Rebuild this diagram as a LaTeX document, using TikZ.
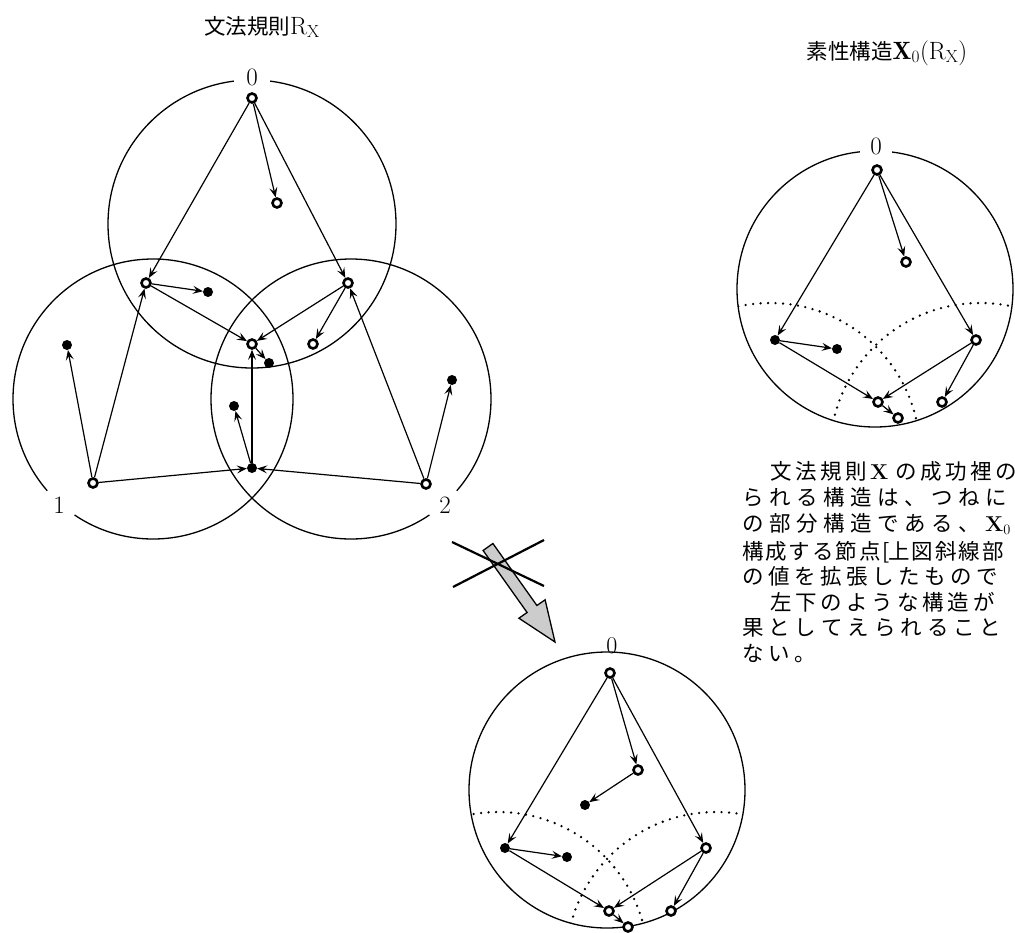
\documentclass[tikz,border=0pt]{standalone}
\usepackage{fontspec}
\newfontfamily\cjk{Noto Sans CJK JP}
\usetikzlibrary{arrows.meta}
\makeatletter
\newlength\cjw
\newcommand\cjline[2]{\setlength\cjw{#1}\@tfor\cj@c:=#2\do{\makebox[\cjw][l]{\cj@c}}}
\makeatother
\begin{document}
\begin{tikzpicture}[x=1pt,y=-1pt,
  dotn/.style={circle,fill=black,inner sep=0pt,minimum size=10pt},
  ringn/.style={circle,draw=black,line width=2.6pt,fill=white,inner sep=0pt,minimum size=9pt},
  arr/.style={-{Stealth[length=10pt,width=8pt,inset=4pt]},line width=1.2pt},
  circ/.style={line width=1.3pt},
  dotc/.style={line width=2.6pt,line cap=round,dash pattern=on 0pt off 7.5pt},
  lab/.style={font=\fontsize{25}{25}\selectfont,fill=white,inner sep=5pt},
  txt/.style={font=\cjk\fontsize{21.5}{26}\selectfont,anchor=base west,inner sep=0pt}]
\useasboundingbox (0,0) rectangle (1015,932);
\fill[white] (0,0) rectangle (1015,932);

% ---------- titles
\node[font=\cjk\fontsize{21.5}{22}\selectfont,inner sep=0pt] (t1) at (262,27)
  {文法規則{\rmfamily\fontsize{25}{25}\selectfont R$_{\mathrm{X}}$}};
\node[font=\cjk\fontsize{21.5}{22}\selectfont,inner sep=0pt] (t2) at (887,53)
  {素性構造{\rmfamily\fontsize{25}{25}\selectfont $\mathbf{X}_0$(R$_{\mathrm{X}}$)}};

% ---------- left diagram (rule R_X)
\draw[circ] (252,224) circle (144);
\draw[circ] (153,399) circle (140);
\draw[circ] (351,399) circle (140);
\node[lab,inner xsep=12pt] (l0) at (252,77) {0};
\node[lab,circle,inner sep=6pt] (l1) at (59,505) {1};
\node[lab,circle,inner sep=6pt] (l2) at (445,505) {2};

\node[ringn] (a0) at (252,98) {};
\node[ringn] (a0a) at (277,203) {};
\node[ringn] (l1n) at (146,283) {};
\node[dotn] (l1a) at (208,292) {};
\node[ringn] (r1) at (348,283) {};
\node[ringn] (r1a) at (313,344) {};
\node[ringn] (c) at (252,344) {};
\node[dotn] (ca) at (269,363) {};
\node[dotn] (ba) at (234,406) {};
\node[dotn] (b) at (252,468) {};
\node[ringn] (p1) at (93,483) {};
\node[dotn] (p1a) at (67,345) {};
\node[ringn] (p2) at (426,484) {};
\node[dotn] (p2a) at (452,380) {};

\draw[arr] (a0) -- (a0a);
\draw[arr] (a0) -- (l1n);
\draw[arr] (a0) -- (r1);
\draw[arr] (l1n) -- (l1a);
\draw[arr] (l1n) -- (c);
\draw[arr] (r1) -- (c);
\draw[arr] (r1) -- (r1a);
\draw[arr] (c) -- (ca);
\draw[arr] (b) -- (c);
\draw[arr] (b) -- (ba);
\draw[arr] (p1) -- (l1n);
\draw[arr] (p1) -- (p1a);
\draw[arr] (p1) -- (b);
\draw[arr] (p2) -- (r1);
\draw[arr] (p2) -- (p2a);
\draw[arr] (p2) -- (b);

% ---------- right diagram X0(R_X)
\draw[circ] (875,289) circle (138);
\begin{scope}
  \clip (875,289) circle (138);
  \draw[dotc] (770,453) circle (150);
  \draw[dotc] (980,453) circle (150);
\end{scope}
\node[lab,inner xsep=10pt] (rl0) at (876,146) {0};
\node[ringn] (rt) at (877,170) {};
\node[ringn] (rta) at (906,262) {};
\node[dotn] (rl) at (775,340) {};
\node[dotn] (rla) at (837,349) {};
\node[ringn] (rr) at (976,340) {};
\node[ringn] (rra) at (942,402) {};
\node[ringn] (rc) at (878,402) {};
\node[ringn] (rca) at (898,418) {};
\draw[arr] (rt) -- (rta);
\draw[arr] (rt) -- (rl);
\draw[arr] (rt) -- (rr);
\draw[arr] (rl) -- (rla);
\draw[arr] (rl) -- (rc);
\draw[arr] (rr) -- (rc);
\draw[arr] (rr) -- (rra);
\draw[arr] (rc) -- (rca);

% ---------- bottom diagram
\draw[circ] (607,790) circle (138);
\begin{scope}
  \clip (607,790) circle (138);
  \draw[dotc] (498,962) circle (150);
  \draw[dotc] (716,962) circle (150);
\end{scope}
\node[font=\fontsize{24}{24}\selectfont,inner sep=0pt,anchor=base] (bl0) at (612,653) {0};
\node[ringn] (bt) at (610,673) {};
\node[ringn] (bta) at (638,770) {};
\node[dotn] (btaa) at (585,805) {};
\node[dotn] (bl) at (505,848) {};
\node[dotn] (bla) at (567,857) {};
\node[ringn] (br) at (706,848) {};
\node[ringn] (bra) at (671,911) {};
\node[ringn] (bc) at (609,911) {};
\node[ringn] (bca) at (628,927) {};
\draw[arr] (bt) -- (bta);
\draw[arr] (bta) -- (btaa);
\draw[arr] (bt) -- (bl);
\draw[arr] (bt) -- (br);
\draw[arr] (bl) -- (bla);
\draw[arr] (bl) -- (bc);
\draw[arr] (br) -- (bc);
\draw[arr] (br) -- (bra);
\draw[arr] (bc) -- (bca);

% ---------- crossed-out arrow
\draw[line width=1.3pt,fill=gray!40] (492.9,543.5) -- (536.9,605.5) -- (545.1,599.8) -- (555,642)
  -- (518.9,618.2) -- (527.1,612.5) -- (483.1,550.5) -- cycle;
\draw[line width=2.2pt] (452,542) -- (544,586);
\draw[line width=2.2pt] (453,587) -- (544,540);

% ---------- text block
\node[txt] (s1) at (770,479) {\cjline{25pt}{文法規則{\rmfamily\bfseries X}の成功裡の}};
\node[txt] (s2) at (742,505) {\cjline{27pt}{られる構造は、つねに}};
\node[txt] (s3) at (742,531) {\cjline{27pt}{の部分構造である、{\rmfamily\bfseries X$_0$}}};
\node[txt] (s4) at (742,559) {\cjline{23.4pt}{構成する節点}\makebox[6pt][l]{[}\cjline{23.4pt}{上図斜線部}};
\node[txt] (s5) at (742,584) {\cjline{26pt}{の値を拡張したもので}};
\node[txt] (s6) at (770,610) {\cjline{25.4pt}{左下のような構造が}};
\node[txt] (s7) at (742,635) {\cjline{26.4pt}{果としてえられること}};
\node[txt] (s8) at (742,661) {\cjline{26pt}{ない。}};
\end{tikzpicture}
\end{document}
